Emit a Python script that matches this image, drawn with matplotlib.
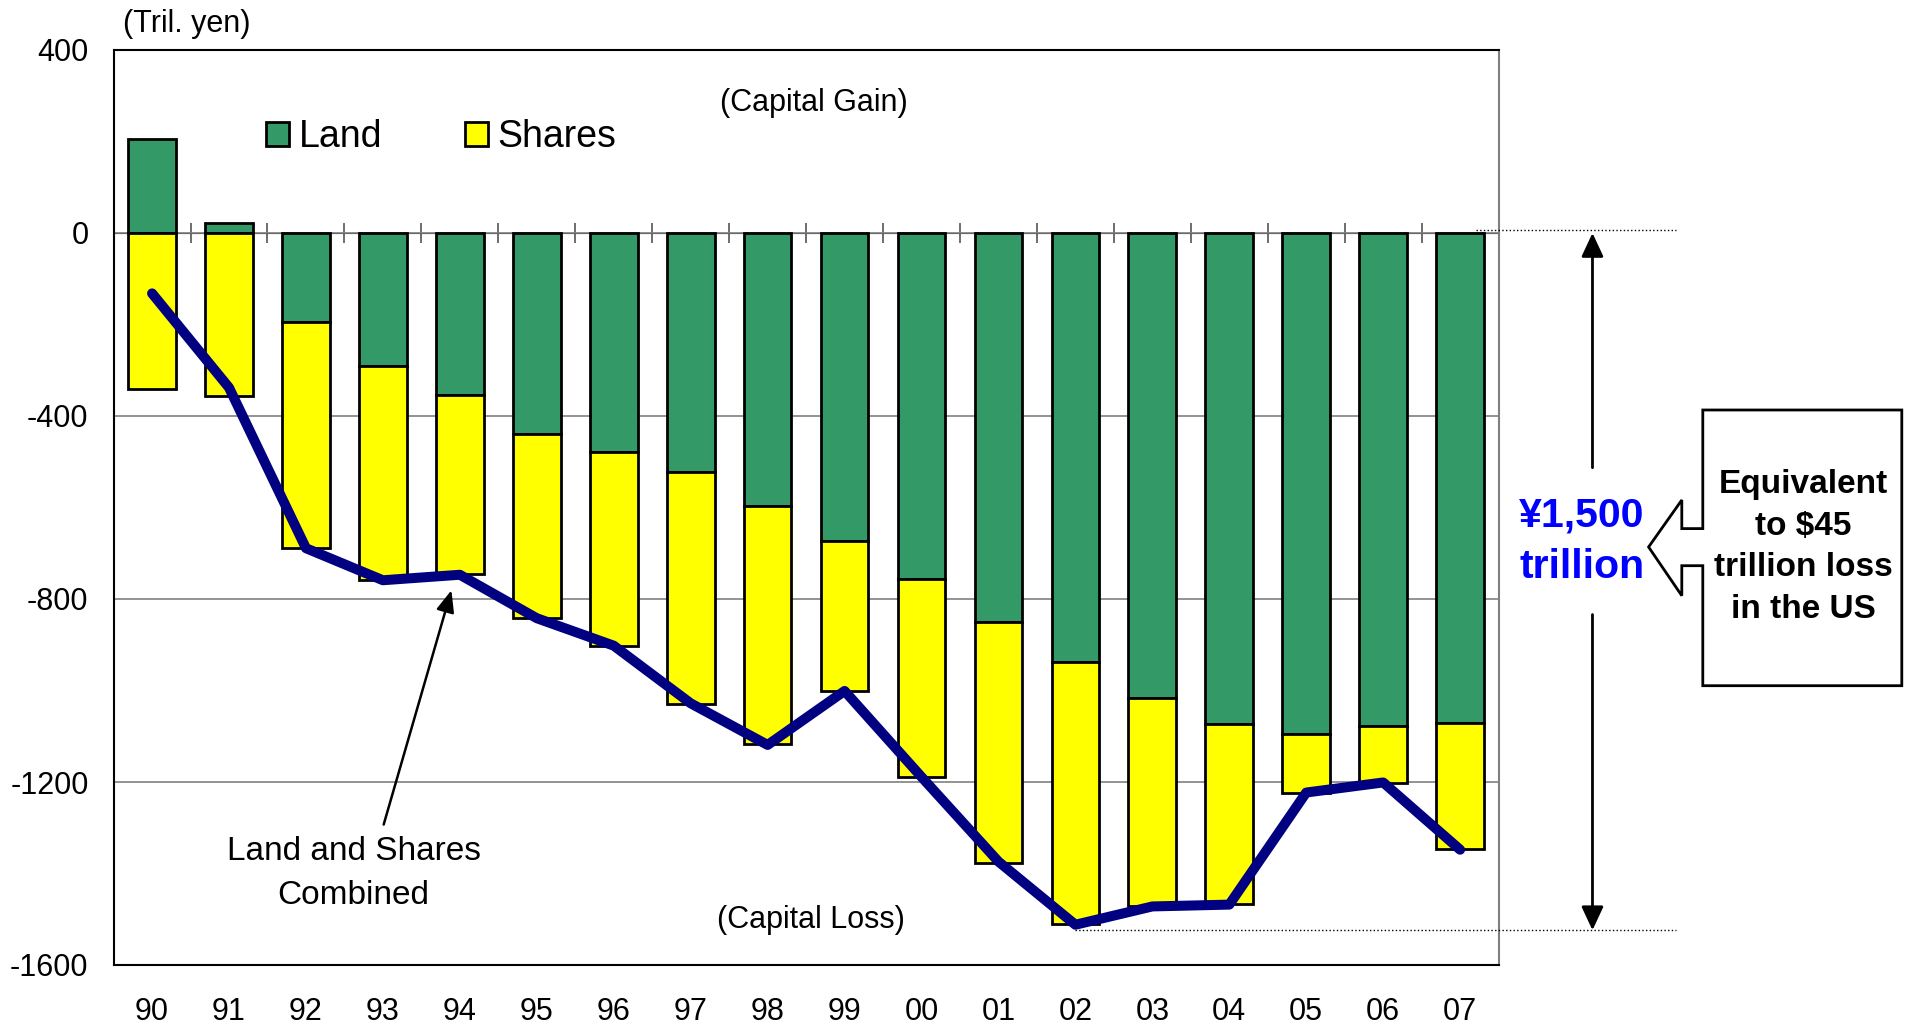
import numpy as np
import matplotlib
matplotlib.use('Agg')
import matplotlib.pyplot as plt
from matplotlib.patches import Polygon, Patch

plt.rcParams['font.family'] = ['Liberation Sans', 'DejaVu Sans']
plt.rcParams['axes.unicode_minus'] = False

# capital gains/losses, tril. yen
years = ['90', '91', '92', '93', '94', '95', '96', '97', '98',
         '99', '00', '01', '02', '03', '04', '05', '06', '07']
land = np.array([206, 22, -195, -291, -354, -440, -478, -523, -596,
                 -673, -756, -850, -938, -1016, -1074, -1095, -1078, -1071])
shares = np.array([-340, -357, -494, -468, -392, -402, -425, -506, -521,
                   -328, -433, -526, -572, -456, -392, -130, -124, -275])
combined = np.array([-132, -338, -689, -759, -747, -842, -902, -1028, -1119,
                     -1001, -1189, -1374, -1512, -1472, -1468, -1223, -1201, -1348])

W, H = 1915, 1026
fig = plt.figure(figsize=(W / 100, H / 100), dpi=100)
ax = fig.add_axes([113.6 / W, 1 - 965 / H, (1498.6 - 113.6) / W, (965 - 50) / H])

def fx(x):
    return x / W

def fy(y):
    return 1 - y / H

x = np.arange(len(years))
green = '#339966'
yellow = '#FFFF00'
navy = '#000080'

ax.bar(x, land, width=0.62, color=green, edgecolor='black', linewidth=2, zorder=3)
ax.bar(x, shares, width=0.62, bottom=np.where(land < 0, land, 0),
       color=yellow, edgecolor='black', linewidth=2, zorder=3)
ax.plot(x, combined, color=navy, lw=7.2, solid_capstyle='round',
        solid_joinstyle='round', zorder=5)

ax.set_xlim(-0.5, 17.5)
ax.set_ylim(-1600, 400)
ax.set_yticks(np.arange(-1600, 401, 400))
ax.set_yticklabels([str(v) for v in np.arange(-1600, 401, 400)])
ax.set_xticks(x)
ax.set_xticklabels(years)
ax.tick_params(axis='both', length=0, labelsize=22)
ax.tick_params(axis='x', pad=23)
ax.tick_params(axis='y', pad=18)
ax.grid(axis='y', color='#808080', lw=1.2, zorder=0)
for s in ['left', 'top', 'bottom']:
    ax.spines[s].set_linewidth(1.5)
ax.spines['right'].set_color('#808080')
ax.spines['right'].set_linewidth(1.5)

# category axis crossing at zero
sec = ax.secondary_xaxis(0.8)
sec.set_xticks(np.arange(0.5, 17, 1))
sec.tick_params(axis='x', direction='inout', length=14, width=1.2,
                color='#555555', labelbottom=False, labeltop=False)
sec.spines['bottom'].set_color('#555555')
sec.spines['bottom'].set_linewidth(1.5)
sec.spines['bottom'].set_zorder(2)

leg = ax.legend(handles=[Patch(facecolor=green, edgecolor='black', lw=2, label='Land'),
                         Patch(facecolor=yellow, edgecolor='black', lw=2, label='Shares')],
                ncol=2, frameon=False, fontsize=27, handlelength=0.62, handleheight=0.62,
                handletextpad=0.26, columnspacing=2.2, borderpad=0,
                loc='center left', bbox_to_anchor=(fx(247), fy(137)),
                bbox_transform=fig.transFigure)

fig.text(fx(187), fy(24), '(Tril. yen)', fontsize=22, ha='center', va='center')
ax.text(8.6, 284, '(Capital Gain)', fontsize=22, ha='center', va='center')
ax.text(8.56, -1502, '(Capital Loss)', fontsize=22, ha='center', va='center')

ax.text(2.62, -1400, 'Land and Shares\nCombined', fontsize=24, ha='center',
        va='center', linespacing=1.5)
ax.annotate('', xy=(3.89, -781), xytext=(3.01, -1293),
            arrowprops=dict(arrowstyle='-|>,head_length=0.6,head_width=0.25',
                            color='black', lw=1.8, mutation_scale=22,
                            shrinkA=0, shrinkB=0))

# total-loss span on the right
ax.plot([17.2, 19.8], [6, 6], ls=':', color='black', lw=1, clip_on=False, zorder=4)
ax.plot([12, 19.8], [-1524, -1524], ls=':', color='black', lw=1, clip_on=False, zorder=4)
arrow_kw = dict(arrowstyle='-|>,head_length=0.58,head_width=0.27', color='black',
                lw=2, mutation_scale=25, shrinkA=0, shrinkB=0)
ax.annotate('', xy=(18.72, 0), xytext=(18.72, -513), arrowprops=arrow_kw,
            annotation_clip=False)
ax.annotate('', xy=(18.72, -1524), xytext=(18.72, -834), arrowprops=arrow_kw,
            annotation_clip=False)
fig.text(fx(1582), fy(541), '¥1,500\ntrillion', fontsize=29.5, fontweight='bold',
         color='#0000FF', ha='center', va='center', linespacing=1.45)

# callout box
pts = [(1702.8, 410), (1901.8, 410), (1901.8, 685.7), (1702.8, 685.7),
       (1702.8, 565.7), (1681.8, 565.7), (1681.8, 595.7), (1648.6, 547),
       (1681.8, 500), (1681.8, 528.6), (1702.8, 528.6)]
fig.patches.append(Polygon([(fx(a), fy(b)) for a, b in pts], closed=True,
                           facecolor='white', edgecolor='black', lw=2,
                           transform=fig.transFigure, figure=fig))
fig.text(fx(1803), fy(547), 'Equivalent\nto $45\ntrillion loss\nin the US',
         fontsize=24, fontweight='bold', ha='center', va='center', linespacing=1.45)

fig.savefig('out.png', dpi=100)
